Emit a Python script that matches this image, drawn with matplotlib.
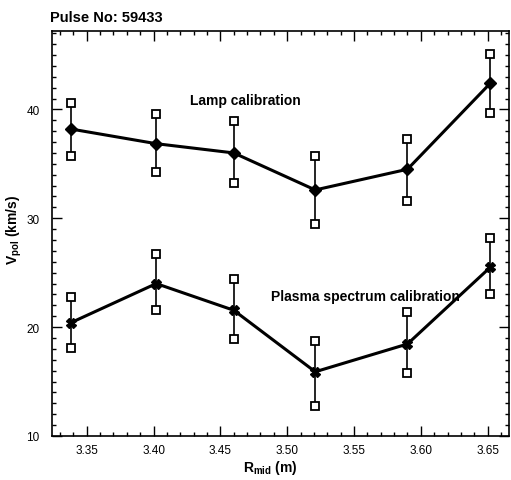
import matplotlib
matplotlib.use("Agg")
import matplotlib.pyplot as plt
from matplotlib.ticker import MultipleLocator

r_mid = [3.338, 3.402, 3.460, 3.521, 3.590, 3.652]
lamp_v = [38.2, 36.85, 36.0, 32.6, 34.5, 42.4]
lamp_hi = [40.6, 39.6, 38.9, 35.7, 37.3, 45.1]
lamp_lo = [35.7, 34.25, 33.2, 29.5, 31.6, 39.7]
plasma_v = [20.4, 24.0, 21.55, 15.9, 18.45, 25.5]
plasma_hi = [22.75, 26.7, 24.4, 18.75, 21.4, 28.2]
plasma_lo = [18.1, 21.55, 18.9, 12.8, 15.8, 23.0]

plt.rcParams['font.family'] = ['Liberation Sans', 'DejaVu Sans']

fig = plt.figure(figsize=(5.11, 4.81), dpi=100)
ax = fig.add_axes([52/511, 44/481, 457/511, 405/481])

for v, hi, lo, mk, ms in [(lamp_v, lamp_hi, lamp_lo, 'D', 6),
                          (plasma_v, plasma_hi, plasma_lo, 'X', 7)]:
    ax.vlines(r_mid, lo, hi, color='black', lw=1.2)
    ax.plot(r_mid, hi, 's', mfc='white', mec='black', ms=6, mew=1.3, ls='none')
    ax.plot(r_mid, lo, 's', mfc='white', mec='black', ms=6, mew=1.3, ls='none')
    ax.plot(r_mid, v, '-', color='black', lw=2.2, marker=mk, ms=ms, mfc='black', mec='black')

ax.set_xlim(3.324, 3.666)
ax.set_ylim(10, 47.2)
ax.xaxis.set_major_locator(MultipleLocator(0.05))
ax.xaxis.set_minor_locator(MultipleLocator(0.01))
ax.yaxis.set_major_locator(MultipleLocator(10))
ax.yaxis.set_minor_locator(MultipleLocator(1))
ax.xaxis.set_major_formatter(plt.FormatStrFormatter('%.2f'))
ax.tick_params(which='both', direction='in', top=True, right=True, labelsize=8.5, width=1)
ax.tick_params(which='major', length=7)
ax.tick_params(which='minor', length=3)
ax.tick_params(axis='y', pad=9)
ax.tick_params(axis='x', pad=6)
for s in ax.spines.values():
    s.set_linewidth(1.2)

ax.text(245/511, 1 - 101/481, 'Lamp calibration', transform=fig.transFigure,
        ha='center', va='center', fontsize=10, fontweight='bold')
ax.text(365/511, 1 - 297/481, 'Plasma spectrum calibration', transform=fig.transFigure,
        ha='center', va='center', fontsize=10, fontweight='bold')
fig.text(50/511, 1 - 18/481, 'Pulse No: 59433', ha='left', va='center', fontsize=10.5, fontweight='bold')
fig.text(14/511, 1 - 230/481, r'V$_{\mathregular{pol}}$ (km/s)', rotation=90,
         ha='center', va='center', fontsize=10, fontweight='bold')
fig.text(270/511, 1 - 468/481, r'R$_{\mathregular{mid}}$ (m)',
         ha='center', va='center', fontsize=10, fontweight='bold')

fig.savefig('out.png', dpi=100)
